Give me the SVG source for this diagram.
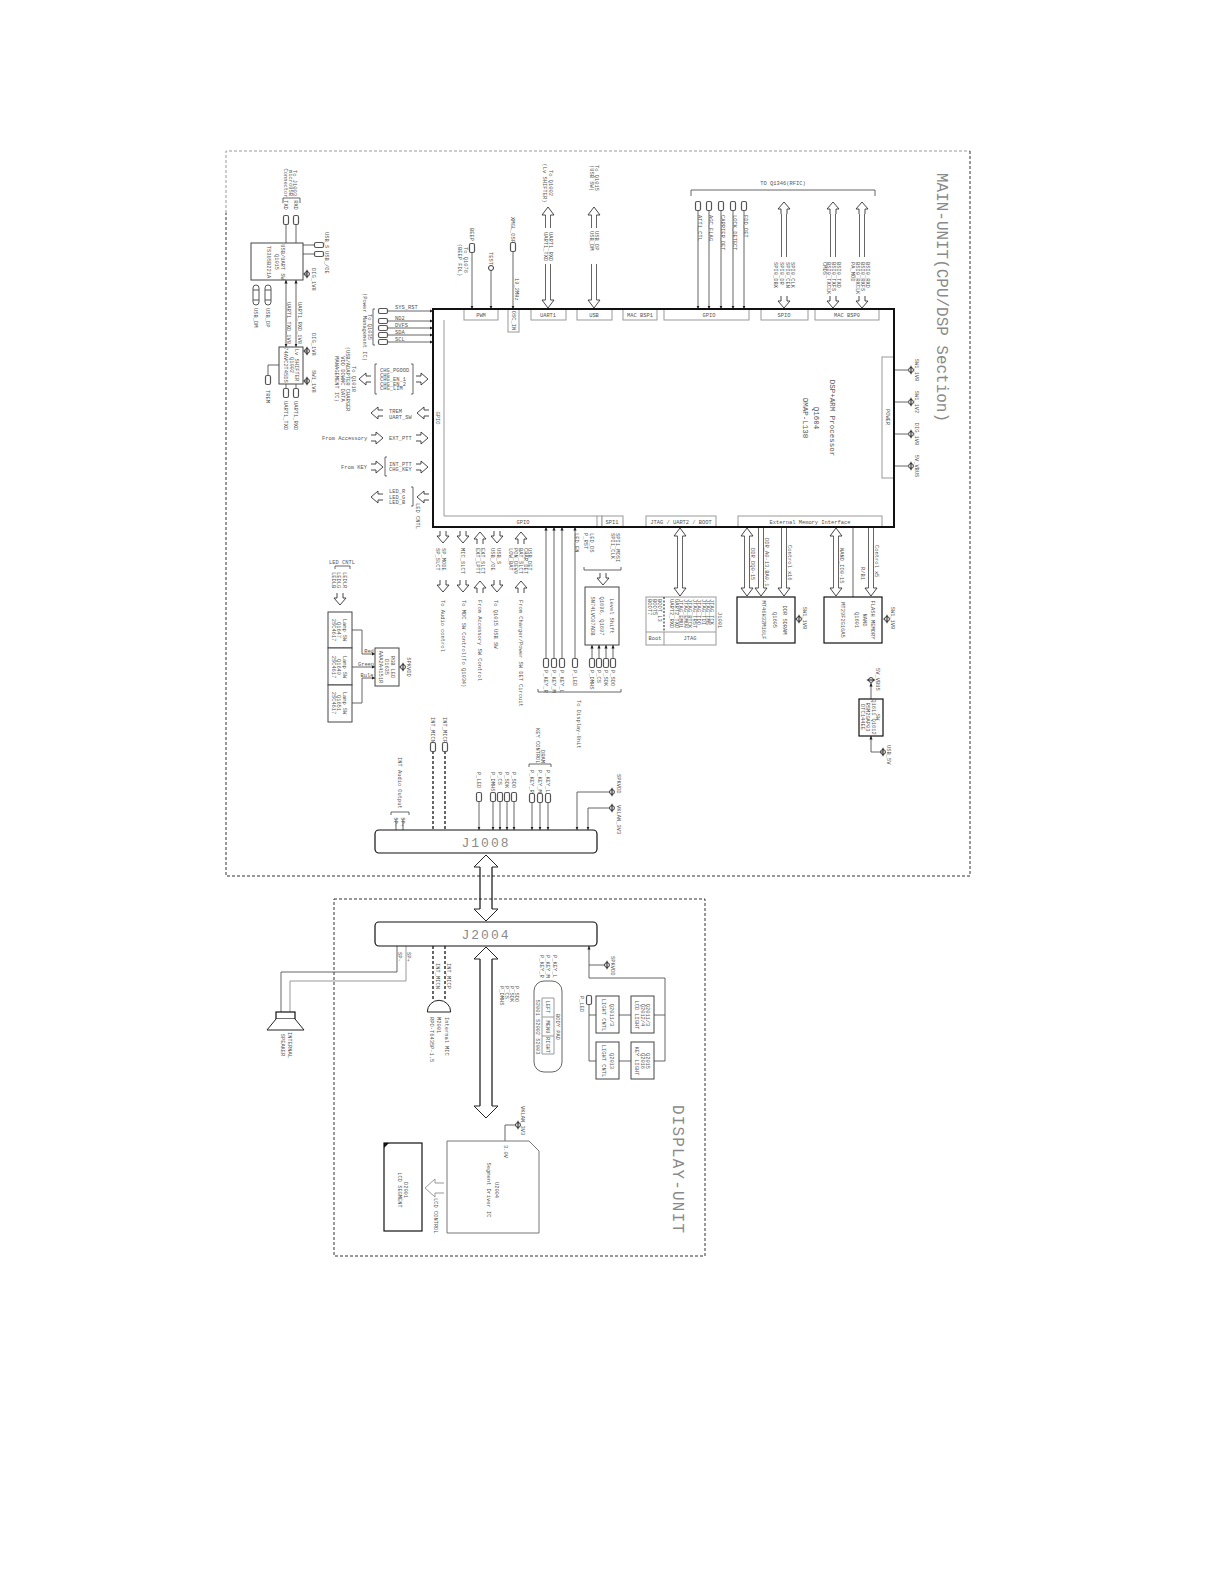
<svg xmlns="http://www.w3.org/2000/svg" width="1224" height="1584" viewBox="0 0 1224 1584">
<style>
text{font-family:"Liberation Mono","DejaVu Sans Mono",monospace;font-size:5.4px;fill:#555}
.m{text-anchor:middle}
.b{font-size:7.5px}
.h{font-size:16px;fill:#8a8a8a}
.j{font-size:13px;fill:#8a8a8a;letter-spacing:2px;text-anchor:middle}
.n{fill:#fff;stroke:#444;stroke-width:1}
.k{fill:#fff;stroke:#111;stroke-width:1.2}
.g{fill:#fff;stroke:#999;stroke-width:1}
.w{fill:none;stroke:#555;stroke-width:.9}
.f{fill:none;stroke:#333;stroke-width:1;stroke-dasharray:3 2}
.e{fill:none;stroke:#999;stroke-width:1;stroke-dasharray:3 2}
.d{fill:none;stroke:#333;stroke-width:1.5;stroke-dasharray:3 2}
.q{fill:none;stroke:#999;stroke-width:1}
</style>
<defs>
<marker id="a" markerUnits="userSpaceOnUse" markerWidth="4" markerHeight="4" refX="3.5" refY="2" orient="auto"><path d="M0 .4L3.6 2 0 3.600z" fill="#222"/></marker>
<path id="ha" d="M-3 12V7H-6L0 0 6 7H3V12" fill="#fff" stroke="#333" stroke-width=".9"/>
<path id="hd" d="M-2.5 8H-6L0 0 6 8H2.5" fill="#fff" stroke="#333" stroke-width=".9"/>
<path id="bh" d="M-6 12H-12L0 0 12 12H6" fill="#fff" stroke="#222" stroke-width="1"/>
<rect id="p" x="-2.5" y="-4.5" width="5" height="9" rx="1.5" fill="#fff" stroke="#555" stroke-width="1.2"/>
<g id="c"><rect x="-3" y="-10" width="6" height="20" rx="3" fill="#fff" stroke="#555"/><path d="M-3-5H3M-3 5H3" stroke="#555"/></g>
<g id="pw"><circle r="2.400" fill="none" stroke="#333"/><path d="M0-4.200V4.200" stroke="#111"/></g>
</defs>
<rect width="1224" height="1584" fill="#fff"/>

<g id="frames">
<path class="e" d="M226 213V151H970"/><path class="f" d="M970 151V876H226V213"/>
<path class="f" d="M334 899H705V1256H334z"/>
<text class="h" transform="translate(937 173)rotate(90)" textLength="249">MAIN-UNIT(CPU/DSP Section)</text>
<text class="h" transform="translate(673 1105)rotate(90)" textLength="128">DISPLAY-UNIT</text>
</g>

<g id="connectors">
<path class="w" d="M286 243V224M296 243V224M303 245H315M303 254H315M303 274H307M303 351H307M303 381H307M279 365H268V376M286 384V389M296 384V389"/>
<path class="w" marker-end="url(#a)" d="M286 300V347"/><path class="w" marker-end="url(#a)" d="M296 300V347"/>
<path class="w" marker-end="url(#a)" d="M286 300V280"/><path class="w" marker-end="url(#a)" d="M296 300V280"/>
<path class="w" marker-end="url(#a)" d="M387 311H433"/><path class="w" marker-end="url(#a)" d="M387 321H433"/><path class="w" marker-end="url(#a)" d="M387 328H433"/><path class="w" marker-end="url(#a)" d="M387 335H433"/><path class="w" marker-end="url(#a)" d="M387 342H433"/>
<path class="w" marker-end="url(#a)" d="M472 252V309"/><path class="w" marker-end="url(#a)" d="M491 271V309"/><path class="w" marker-end="url(#a)" d="M513 251V309"/>
<path class="w" marker-end="url(#a)" d="M698 211V309"/><path class="w" marker-end="url(#a)" d="M709 211V309"/><path class="w" marker-end="url(#a)" d="M721 211V309"/><path class="w" marker-end="url(#a)" d="M733 211V309"/><path class="w" marker-end="url(#a)" d="M744 211V309"/>
<path class="w" d="M545.500 215V228M550.500 215V228M545.500 264V300M550.500 264V300M591.500 215V228M596.500 215V228M591.500 264V300M596.500 264V300M781.500 210V257M786.500 210V257M830.500 210V257M835.500 210V257M859.500 210V257M864.500 210V257"/>
<path class="w" d="M894 370H908M894 402H908M894 434H908M894 466H908"/>
<path class="w" d="M677.500 535V590M682.500 535V590M744.500 535V590M749.500 535V590M758.500 527V590M763.500 527V590M781.500 527V590M786.500 527V590M833.500 535V590M838.500 535V590M853 527V597M868.500 527V590M873.500 527V590"/>
<path class="w" marker-end="url(#a)" d="M546 659V527"/><path class="w" marker-end="url(#a)" d="M554 659V527"/><path class="w" marker-end="url(#a)" d="M562 659V527"/><path class="w" marker-end="url(#a)" d="M575 659V527"/>
<path class="w" marker-end="url(#a)" d="M592 659V645"/><path class="w" marker-end="url(#a)" d="M599 659V645"/><path class="w" marker-end="url(#a)" d="M606 659V645"/><path class="w" marker-end="url(#a)" d="M613 659V645"/>
<path class="w" d="M795 619H797M883 619H885"/>
<path class="w" marker-end="url(#a)" d="M871 699V683"/>
<path class="w" marker-end="url(#a)" d="M883 752H871V736"/>
<path class="w" d="M352 630H362V654H375" marker-end="url(#a)"/>
<path class="w" d="M352 667H375" marker-end="url(#a)"/>
<path class="w" d="M352 703H362V678H375" marker-end="url(#a)"/>
<path class="w" d="M399 667H401"/>
<path class="w" marker-end="url(#a)" d="M479 801V830"/><path class="w" marker-end="url(#a)" d="M493 801V830"/><path class="w" marker-end="url(#a)" d="M500 801V830"/><path class="w" marker-end="url(#a)" d="M507 801V830"/><path class="w" marker-end="url(#a)" d="M514 801V830"/><path class="w" marker-end="url(#a)" d="M532 801V830"/><path class="w" marker-end="url(#a)" d="M540 801V830"/><path class="w" marker-end="url(#a)" d="M548 801V830"/>
<path class="w" marker-end="url(#a)" d="M610 792H577V830"/><path class="w" marker-end="url(#a)" d="M610 808H588V830"/>
<path class="d" d="M433 751V830M445 751V830"/>
<path class="w" d="M396 819V830M403 819V830"/>
<path class="k" style="fill:none" d="M480 867V909M492 867V909M480 959V1106M492 959V1106"/>
<path class="w" d="M397 946V972H281V1012"/><path class="q" d="M406 946V981H290V1012"/>
<path class="d" d="M433 946V1001M445 946V1001"/>
<path class="w" marker-end="url(#a)" d="M589 978V946"/>
<path class="w" d="M589 965H605M589 978H665V1061H654M654 1015H665M619 1015H631M619 1061H631M589 1005V1061H596M589 1015H596"/>
<path class="w" d="M505 1141V1125H516"/>
<g id="hollow-arrows">
<use href="#ha" transform="translate(359 379)rotate(-90)"/><use href="#ha" transform="translate(428 379)rotate(90)"/>
<use href="#ha" transform="translate(371 413)rotate(-90)"/><use href="#ha" transform="translate(417 413)rotate(-90)"/>
<use href="#ha" transform="translate(383 438)rotate(90)"/><use href="#ha" transform="translate(428 438)rotate(90)"/>
<use href="#ha" transform="translate(383 467)rotate(90)"/><use href="#ha" transform="translate(428 467)rotate(90)"/>
<use href="#ha" transform="translate(371 497)rotate(-90)"/><use href="#ha" transform="translate(417 497)rotate(-90)"/>
<use href="#ha" transform="translate(443 543)rotate(180)"/><use href="#ha" transform="translate(463 543)rotate(180)"/><use href="#ha" transform="translate(480 532)"/><use href="#ha" transform="translate(497 543)rotate(180)"/><use href="#ha" transform="translate(521 532)"/>
<use href="#ha" transform="translate(443 592)rotate(180)"/><use href="#ha" transform="translate(463 592)rotate(180)"/><use href="#ha" transform="translate(480 581)"/><use href="#ha" transform="translate(497 592)rotate(180)"/><use href="#ha" transform="translate(521 581)"/>
<use href="#ha" transform="translate(603 585)rotate(180)"/><use href="#ha" transform="translate(340 605)rotate(180)"/>
<use href="#ha" transform="translate(784 202)"/><use href="#ha" transform="translate(833 202)"/><use href="#ha" transform="translate(862 202)"/>
<use href="#ha" transform="translate(784 308)rotate(180)"/><use href="#ha" transform="translate(833 308)rotate(180)"/><use href="#ha" transform="translate(862 308)rotate(180)"/>
<use href="#hd" transform="translate(548 207)"/><use href="#hd" transform="translate(548 308)scale(1 -1)"/>
<use href="#hd" transform="translate(594 207)"/><use href="#hd" transform="translate(594 308)scale(1 -1)"/>
<use href="#hd" transform="translate(680 528)"/><use href="#hd" transform="translate(680 596)scale(1 -1)"/>
<use href="#hd" transform="translate(747 528)"/><use href="#hd" transform="translate(747 596)scale(1 -1)"/>
<use href="#hd" transform="translate(761 596)scale(1 -1)"/><use href="#hd" transform="translate(784 596)scale(1 -1)"/>
<use href="#hd" transform="translate(836 528)"/><use href="#hd" transform="translate(836 596)scale(1 -1)"/>
<use href="#hd" transform="translate(871 596)scale(1 -1)"/>
<use href="#bh" transform="translate(486 855)"/><use href="#bh" transform="translate(486 921)scale(1 -1)"/>
<use href="#bh" transform="translate(486 947)"/><use href="#bh" transform="translate(486 1118)scale(1 -1)"/>
<path d="M444 1183H435V1179L425 1188 435 1197V1193H444" fill="#fff" stroke="#999"/>
</g>
<path class="w" d="M283 203V198H300V203M375 309H373V345H375M691 196V190H875V196M377 364H375V394H377M411 364H413V394H411M387 457H385V476H387M411 487H413V506H411M584 567V570H621V567M538 689V692H621V689M335 569V566H350V569M391 815V812H409V815M529 767V764H551V767"/>
</g>

<g id="cpu">
<rect x="433" y="309" width="461" height="218" fill="#fff" stroke="#111" stroke-width="2"/>
<path class="q" d="M444 320V516H597"/>
<text class="m" transform="translate(436 418)rotate(90)">GPIO</text>
<text class="b m" transform="translate(830 418)rotate(90)">DSP+ARM Processor</text>
<text class="b m" transform="translate(814 418)rotate(90)">Q1604</text>
<text class="b m" transform="translate(803 418)rotate(90)">OMAP-L138</text>
</g>
<g id="cpu-ports">
<rect x="464" y="309" width="34" height="11" class="g"/><text class="m" x="481" y="316.500">PWM</text>
<rect x="508" y="309" width="11" height="23" class="g"/><text class="m" transform="translate(511.500 320.500)rotate(90)">OSC_IN</text>
<rect x="531" y="309" width="35" height="11" class="g"/><text class="m" x="548" y="316.500">UART1</text>
<rect x="577" y="309" width="35" height="11" class="g"/><text class="m" x="594" y="316.500">USB</text>
<rect x="623" y="309" width="34" height="11" class="g"/><text class="m" x="640" y="316.500">MAC BSP1</text>
<rect x="664" y="309" width="85" height="11" class="g"/><text class="m" x="709" y="316.500">GPIO</text>
<rect x="761" y="309" width="47" height="11" class="g"/><text class="m" x="784" y="316.500">SPIO</text>
<rect x="815" y="309" width="64" height="11" class="g"/><text class="m" x="847" y="316.500">MAC BSP0</text>
<rect x="882" y="357" width="12" height="121" class="g"/><text class="m" transform="translate(886 417)rotate(90)">POWER</text>
<rect x="597" y="516" width="5" height="11" class="g"/>
<rect x="602" y="516" width="21" height="11" class="g"/><text class="m" x="612" y="523.500">SPI1</text>
<rect x="646" y="516" width="70" height="11" class="g"/><text class="m" x="681" y="523.500">JTAG / UART2 / BOOT</text>
<rect x="738" y="516" width="144" height="11" class="g"/><text class="m" x="810" y="523.500">External Memory Interface</text>
<text class="m" x="523" y="523.500">GPIO</text>
<path d="M433 309H894V527H433z" fill="none" stroke="#111" stroke-width="2"/>
</g>

<g id="q1015">
<rect x="251" y="243" width="52" height="37" class="n"/>
<text class="m" transform="translate(281 262)rotate(90)">USB/UART SW</text>
<text class="m" transform="translate(275 262)rotate(90)">Q1015</text>
<text class="m" transform="translate(267 262)rotate(90)">TS3USB221A</text>
<use href="#p" x="286" y="220"/><use href="#p" x="296" y="220"/>
<use href="#p" transform="translate(319 245)rotate(90)"/><use href="#p" transform="translate(319 254)rotate(90)"/>
<use href="#c" x="256" y="295"/><use href="#c" x="268" y="295"/>
<use href="#pw" x="307" y="274"/><use href="#pw" x="307" y="351"/><use href="#pw" x="307" y="381"/>
<text transform="translate(325 232)rotate(90)">USB_S</text><text transform="translate(325 251)rotate(90)">USB_/OE</text>
<text transform="translate(312 268)rotate(90)">DIG_1V8</text>
<text transform="translate(254 308)rotate(90)">USB_DM</text><text transform="translate(266 308)rotate(90)">USB_DP</text>
<text class="m" transform="translate(284 205)rotate(90)">TXD</text><text class="m" transform="translate(294 205)rotate(90)">RXD</text>
<text class="m" transform="translate(293 183)rotate(90)">To J1003</text><text class="m" transform="translate(289 183)rotate(90)">microUSB</text><text class="m" transform="translate(284 183)rotate(90)">Connector</text>
<text transform="translate(287 302)rotate(90)">UART1_TXD_1V8</text><text transform="translate(298 302)rotate(90)">UART1_RXD_1V8</text>
</g>

<g id="q1002">
<rect x="279" y="347" width="24" height="37" class="n"/>
<text class="m" transform="translate(295 365)rotate(90)">Lv SHIFTER</text>
<text class="m" transform="translate(290 365)rotate(90)">Q1002</text>
<text class="m" transform="translate(284 365)rotate(90)">74AVC2T45DS</text>
<use href="#p" x="268" y="380"/><use href="#p" x="286" y="393"/><use href="#p" x="296" y="393"/>
<text transform="translate(266 390)rotate(90)">TREM</text>
<text transform="translate(284 401)rotate(90)">UART1_TXD</text><text transform="translate(294 401)rotate(90)">UART1_RXD</text>
<text transform="translate(312 333)rotate(90)">DIG_1V8</text><text transform="translate(312 370)rotate(90)">SW1_1V8</text>
</g>

<g id="power-mgmt">
<use href="#p" transform="translate(383 311)rotate(90)"/><use href="#p" transform="translate(383 321)rotate(90)"/><use href="#p" transform="translate(383 328)rotate(90)"/><use href="#p" transform="translate(383 335)rotate(90)"/><use href="#p" transform="translate(383 342)rotate(90)"/>
<text x="395" y="309">SYS_RST</text><text x="395" y="320">ND2</text><text x="395" y="327">DVFS</text><text x="395" y="334">SDA</text><text x="395" y="341">SCL</text>
<text class="m" transform="translate(368 327)rotate(90)">To Q1035</text><text class="m" transform="translate(363 327)rotate(90)">(Power Management IC)</text>
</g>

<g id="gpio-left">
<text x="380" y="372">CHG_PGOOD</text><text x="380" y="376.500">CHG</text><text x="380" y="381">CHG_EN_1</text><text x="380" y="385.500">CHG_EN_2</text><text x="380" y="390">CHG_LIM</text>
<text class="m" transform="translate(352 379)rotate(90)">To Q1018</text><text class="m" transform="translate(346 379)rotate(90)">(USB/ADAPTER CHARGER</text><text class="m" transform="translate(341 379)rotate(90)">VDD DOWNC DATA</text><text class="m" transform="translate(335 379)rotate(90)">MANAGEMENT IC)</text>
<text x="389" y="413">TREM</text><text x="389" y="419">UART_SW</text>
<text x="322" y="440">From Accessory</text><text x="389" y="440">EXT_PTT</text>
<text x="341" y="469">From KEY</text><text x="389" y="466">INT_PTT</text><text x="389" y="471">CHG_KEY</text>
<text x="389" y="493">LED_R</text><text x="389" y="499">LED_G</text><text x="389" y="504">LED_B</text>
<text transform="translate(416 503)rotate(90)">LED CNTL</text>
</g>

<g id="top-signals">
<use href="#p" x="472" y="248"/><text transform="translate(470 228)rotate(90)">BEEP</text>
<text class="m" transform="translate(464 260)rotate(90)">To Q1076</text><text class="m" transform="translate(458 260)rotate(90)">(BEEP FDL)</text>
<circle cx="491" cy="268" r="2.500" fill="#fff" stroke="#333"/><text transform="translate(489 252)rotate(90)">TEST</text>
<use href="#p" x="513" y="247"/><text transform="translate(511 217)rotate(90)">XMGL_OSP</text><text transform="translate(515 278)rotate(90)">19_2MHz</text>
<text class="m" transform="translate(549 183)rotate(90)">To Q1002</text><text class="m" transform="translate(543 183)rotate(90)">(Lv SHIFTER)</text>
<text transform="translate(549 232)rotate(90)">UART1_RXD</text><text transform="translate(544 232)rotate(90)">UART1_TXD</text>
<text class="m" transform="translate(595 178)rotate(90)">To Q1015</text><text class="m" transform="translate(590 178)rotate(90)">(USB SW)</text>
<text transform="translate(595 231)rotate(90)">USB_DP</text><text transform="translate(590 231)rotate(90)">USB_DM</text>
<use href="#p" x="698" y="206"/><use href="#p" x="709" y="206"/><use href="#p" x="721" y="206"/><use href="#p" x="733" y="206"/><use href="#p" x="744" y="206"/>
<text transform="translate(698 215)rotate(90)">ATT1_CTL</text><text transform="translate(709 215)rotate(90)">AGC_FLAG</text><text transform="translate(721 215)rotate(90)">CARRIER_DET</text><text transform="translate(733 215)rotate(90)">LOCK_DETECT</text><text transform="translate(744 215)rotate(90)">FDD_DET</text>
<text class="m" x="783" y="185">TO Q1346(RFIC)</text>
<text transform="translate(791 262)rotate(90)">SPI0_CLK</text><text transform="translate(786 262)rotate(90)">SPI0_CEN</text><text transform="translate(780 262)rotate(90)">SPI0_DR</text><text transform="translate(774 262)rotate(90)">SPI0_DBX</text>
<text transform="translate(837 262)rotate(90)">BSI0_TXD</text><text transform="translate(832 262)rotate(90)">BSI0_TXFS</text><text transform="translate(827 262)rotate(90)">BSI0_TXCLK</text><text transform="translate(823 262)rotate(90)">CMDS</text>
<text transform="translate(866 262)rotate(90)">BSI0_RXD</text><text transform="translate(861 262)rotate(90)">BSI0_RXFS</text><text transform="translate(856 262)rotate(90)">BSI0_RXCLK</text><text transform="translate(851 262)rotate(90)">PA_MOD</text>
</g>

<g id="power-rails">
<use href="#pw" x="911" y="370"/><use href="#pw" x="911" y="402"/><use href="#pw" x="911" y="434"/><use href="#pw" x="911" y="466"/>
<text class="m" transform="translate(915 370)rotate(90)">SW1_1V8</text><text class="m" transform="translate(915 402)rotate(90)">SW1_1V2</text><text class="m" transform="translate(915 434)rotate(90)">DIG_1V8</text><text class="m" transform="translate(915 466)rotate(90)">5V_VBUS</text>
</g>

<g id="gpio-bottom">
<text transform="translate(442 548)rotate(90)">SP_MODE</text><text transform="translate(436 548)rotate(90)">SP_SLCT</text>
<text transform="translate(461 548)rotate(90)">MIC_SLCT</text>
<text transform="translate(481 548)rotate(90)">EXT_SLCT</text><text transform="translate(476 548)rotate(90)">EXT_LPTT</text>
<text transform="translate(497 548)rotate(90)">USB_S</text><text transform="translate(491 548)rotate(90)">USB_/OE</text>
<text transform="translate(528 548)rotate(90)">USB_DET</text><text transform="translate(524 548)rotate(90)">CHAR_DET</text><text transform="translate(519 548)rotate(90)">BAT_SLCT</text><text transform="translate(514 548)rotate(90)">PON_DEV0</text><text transform="translate(509 548)rotate(90)">LOW_BAT</text>
<text transform="translate(441 600)rotate(90)">To Audio control</text>
<text transform="translate(462 600)rotate(90)">To MDC SW Control(To Q1034)</text>
<text transform="translate(478 600)rotate(90)">From Accessory SW Control</text>
<text transform="translate(494 600)rotate(90)">To Q1015 USB SW</text>
<text transform="translate(519 600)rotate(90)">From Charger/Power SW DET Circuit</text>
<text transform="translate(575 533)rotate(90)">LED_EN</text><text transform="translate(590 533)rotate(90)">LED_DS</text><text transform="translate(584 533)rotate(90)">P_RST</text>
<text transform="translate(616 533)rotate(90)">SPI1_MOSI</text><text transform="translate(611 533)rotate(90)">SPI1_CLK</text>
</g>

<g id="level-shift">
<rect x="585" y="587" width="34" height="58" class="n"/>
<text class="m" transform="translate(610 616)rotate(90)">Level Shift</text><text class="m" transform="translate(600 616)rotate(90)">Q1696, Q1697</text><text class="m" transform="translate(591 616)rotate(90)">SN74LVC07ADB</text>
<use href="#p" x="546" y="663"/><use href="#p" x="554" y="663"/><use href="#p" x="562" y="663"/><use href="#p" x="575" y="663"/><use href="#p" x="592" y="663"/><use href="#p" x="599" y="663"/><use href="#p" x="606" y="663"/><use href="#p" x="613" y="663"/>
<text transform="translate(544 670)rotate(90)">P_KEY_R</text><text transform="translate(552 670)rotate(90)">P_KEY_M</text><text transform="translate(560 670)rotate(90)">P_KEY_L</text><text transform="translate(573 670)rotate(90)">P_LED</text>
<text transform="translate(590 670)rotate(90)">P_DMHS</text><text transform="translate(597 670)rotate(90)">P_CS</text><text transform="translate(604 670)rotate(90)">P_SDK</text><text transform="translate(611 670)rotate(90)">P_SDO</text>
<text transform="translate(577 700)rotate(90)">To Display-Unit</text>
</g>

<g id="lamp">
<rect x="328" y="612" width="24" height="36" class="n"/><rect x="328" y="648" width="24" height="37" class="n"/><rect x="328" y="685" width="24" height="37" class="n"/>
<text class="m" transform="translate(343 630)rotate(90)">Lamp SW</text><text class="m" transform="translate(337 630)rotate(90)">Q1647</text><text class="m" transform="translate(332 630)rotate(90)">2SC4617</text>
<text class="m" transform="translate(343 667)rotate(90)">Lamp SW</text><text class="m" transform="translate(337 667)rotate(90)">Q1649</text><text class="m" transform="translate(332 667)rotate(90)">2SC4617</text>
<text class="m" transform="translate(343 703)rotate(90)">Lamp SW</text><text class="m" transform="translate(337 703)rotate(90)">Q1651</text><text class="m" transform="translate(332 703)rotate(90)">2SC4617</text>
<text class="m" x="342" y="564">LED CNTL</text>
<text transform="translate(343 572)rotate(90)">LEDLR</text><text transform="translate(337 572)rotate(90)">LEDLG</text><text transform="translate(332 572)rotate(90)">LEDLB</text>
<text class="m" x="369" y="653">Red</text><text class="m" x="366" y="666">Green</text><text class="m" x="367" y="677">Bule</text>
</g>
<g id="rgb-led">
<rect x="375" y="648" width="24" height="38" class="n"/>
<text class="m" transform="translate(391 667)rotate(90)">RGB LED</text><text class="m" transform="translate(385 667)rotate(90)">D1635</text><text class="m" transform="translate(379 667)rotate(90)">AAA2A4151R</text>
<use href="#pw" x="403" y="667"/><text class="m" transform="translate(407 667)rotate(90)">SPKVDD</text>
</g>

<g id="jtag">
<rect x="646" y="597" width="70" height="48" class="g"/>
<path class="q" d="M646 632H716M664 632V645"/><path d="M664 597V632" stroke="#111" stroke-dasharray="2 1.500"/>
<text class="m" x="655" y="640">Boot</text><text class="m" x="690" y="640">JTAG</text>
<text transform="translate(710 599)rotate(90)">JTAG_TCK</text><text transform="translate(706 599)rotate(90)">JTAG_TMS</text><text transform="translate(701.500 599)rotate(90)">JTAG_TDI</text><text transform="translate(697 599)rotate(90)">JTAG_TDO</text><text transform="translate(692.500 599)rotate(90)">JTAG_TRST</text><text transform="translate(688 599)rotate(90)">JTAG_RTCK</text><text transform="translate(683.500 599)rotate(90)">JTAG_EMU0</text><text transform="translate(679 599)rotate(90)">JTAG_EMU1</text><text transform="translate(674.500 599)rotate(90)">UART2_TXD</text><text transform="translate(670 599)rotate(90)">UART2_RXD</text>
<text transform="translate(658 599)rotate(90)">BOOT_L3</text><text transform="translate(653 599)rotate(90)">BOOT5</text><text transform="translate(648 599)rotate(90)">BOOT7</text>
<text transform="translate(718 612)rotate(90)">J1001</text>
</g>

<g id="ddr">
<rect x="737" y="597" width="58" height="46" class="k"/>
<text class="m" transform="translate(783 620)rotate(90)">DDR SDRAM</text><text class="m" transform="translate(773 620)rotate(90)">Q1605</text><text class="m" transform="translate(762 620)rotate(90)">MT46H32M16LF</text>
<use href="#pw" x="799" y="619"/><text class="m" transform="translate(803 618)rotate(90)">SW1_1V8</text>
<text transform="translate(751 548)rotate(90)">DDR_DQ0-15</text><text transform="translate(765 538)rotate(90)">DDR_A0-13,BA0,1</text><text transform="translate(788 545)rotate(90)">Control x16</text>
</g>
<g id="flash">
<rect x="824" y="597" width="58" height="46" class="k"/>
<text class="m" transform="translate(871 620)rotate(90)">FLASH MEMORY</text><text class="m" transform="translate(863 620)rotate(90)">NAND</text><text class="m" transform="translate(855 620)rotate(90)">Q1601</text><text class="m" transform="translate(841 620)rotate(90)">MT29F2G16A5</text>
<use href="#pw" x="887" y="619"/><text class="m" transform="translate(891 618)rotate(90)">SW1_1V8</text>
<text transform="translate(840 548)rotate(90)">NAND_IO0-15</text><text transform="translate(861 567)rotate(90)">R/B1</text><text transform="translate(875 545)rotate(90)">Control x5</text>
</g>
<g id="usb-sw">
<rect x="859" y="699" width="24" height="37" class="k"/>
<text class="m" transform="translate(876 717)rotate(90)">SW</text><text class="m" transform="translate(872 717)rotate(90)">Q1611 Q1612</text><text class="m" transform="translate(866 717)rotate(90)">RSM2GAP03</text><text class="m" transform="translate(861 717)rotate(90)">DTC144EE</text>
<use href="#pw" transform="translate(871 680)rotate(90)"/><text transform="translate(876 668)rotate(90)">5V_VBUS</text>
<use href="#pw" x="883" y="752"/><text transform="translate(887 745)rotate(90)">USB_5V</text>
</g>

<g id="j1008">
<rect x="375" y="830" width="222" height="23" rx="4" class="k"/>
<text class="j" x="486" y="847">J1008</text>
<use href="#p" x="433" y="747"/><use href="#p" x="445" y="747"/>
<text transform="translate(431 717)rotate(90)">INT_MICN</text><text transform="translate(443 717)rotate(90)">INT_MICP</text>
<text transform="translate(398 757)rotate(90)">INT Audio Output</text>
<text class="m" transform="translate(394 822)rotate(90)">SP-</text><text class="m" transform="translate(401 822)rotate(90)">SP+</text>
<use href="#p" x="479" y="797"/><use href="#p" x="493" y="797"/><use href="#p" x="500" y="797"/><use href="#p" x="507" y="797"/><use href="#p" x="514" y="797"/><use href="#p" x="532" y="798"/><use href="#p" x="540" y="798"/><use href="#p" x="548" y="798"/>
<text transform="translate(477 772)rotate(90)">P_LED</text><text transform="translate(491 772)rotate(90)">P_DMHS</text><text transform="translate(498 772)rotate(90)">P_CS</text><text transform="translate(505 772)rotate(90)">P_SDK</text><text transform="translate(512 772)rotate(90)">P_SDO</text>
<text transform="translate(530 770)rotate(90)">P_KEY_R</text><text transform="translate(538 770)rotate(90)">P_KEY_M</text><text transform="translate(546 770)rotate(90)">P_KEY_L</text>
<text transform="translate(536 728)rotate(90)">KEY CONTROL</text><text transform="translate(541 750)rotate(90)">DRAM</text>
<use href="#pw" x="612" y="792"/><use href="#pw" x="612" y="808"/>
<text transform="translate(617 774)rotate(90)">SPKVDD</text><text transform="translate(617 805)rotate(90)">VKLAN_3V3</text>
</g>

<g id="j2004">
<rect x="375" y="922" width="222" height="24" rx="4" class="k"/>
<text class="j" x="486" y="939">J2004</text>
<text transform="translate(398 952)rotate(90)">SP-</text><text transform="translate(407 952)rotate(90)">SP+</text>
<text transform="translate(436 963)rotate(90)">INT_MICN</text><text transform="translate(447 963)rotate(90)">INT_MICP</text>
<text transform="translate(500 986)rotate(90)">P_DMHS</text><text transform="translate(505 986)rotate(90)">P_CS</text><text transform="translate(510 986)rotate(90)">P_SDK</text><text transform="translate(515 986)rotate(90)">P_SDO</text>
<text transform="translate(540 955)rotate(90)">P_KEY_R</text><text transform="translate(546 955)rotate(90)">P_KEY_M</text><text transform="translate(553 955)rotate(90)">P_KEY_L</text>
<use href="#pw" x="607" y="965"/><text transform="translate(611 956)rotate(90)">SPKVDD</text>
</g>

<g id="speaker">
<rect x="276" y="1012" width="19" height="7" class="k"/>
<path d="M276 1019L267 1030H304L295 1019" fill="#fff" stroke="#222"/>
<text class="m" transform="translate(288 1045)rotate(90)">INTERNAL</text><text class="m" transform="translate(281 1045)rotate(90)">SPEAKER</text>
</g>
<g id="mic">
<path d="M427.300 1012A11.700 11.700 0 0 1 450.700 1012z" fill="#fff" stroke="#222"/>
<text transform="translate(445 1017)rotate(90)">Internal MIC</text><text transform="translate(437 1017)rotate(90)">M2001</text><text transform="translate(430 1017)rotate(90)">RPO-T6435P-1.5</text>
</g>
<g id="body-pad">
<rect x="534" y="981" width="28" height="91" rx="10" fill="#fff" stroke="#666"/>
<path class="q" d="M542 998H554V1054H542zM542 1017H554M542 1036H554"/>
<text class="m" transform="translate(546 1007)rotate(90)">LEFT</text><text class="m" transform="translate(546 1027)rotate(90)">MENU</text><text class="m" transform="translate(546 1045)rotate(90)">RIGHT</text>
<text class="m" transform="translate(556 1027)rotate(90)">BODY PAD</text><text class="m" transform="translate(536 1027)rotate(90)">S2001 S2002 S2003</text>
</g>
<g id="lights">
<rect x="596" y="996" width="23" height="37" class="n"/><rect x="596" y="1042" width="23" height="37" class="n"/><rect x="631" y="996" width="23" height="37" class="n"/><rect x="631" y="1042" width="23" height="37" class="n"/>
<text class="m" transform="translate(610 1015)rotate(90)">Q2011/3</text><text class="m" transform="translate(602 1015)rotate(90)">LIGHT CNTL</text>
<text class="m" transform="translate(610 1061)rotate(90)">Q2013</text><text class="m" transform="translate(602 1061)rotate(90)">LIGHT CNTL</text>
<text class="m" transform="translate(646 1015)rotate(90)">Q2011/3</text><text class="m" transform="translate(641 1015)rotate(90)">Q2012/4</text><text class="m" transform="translate(635 1015)rotate(90)">LCD LIGHT</text>
<text class="m" transform="translate(646 1061)rotate(90)">Q2015</text><text class="m" transform="translate(641 1061)rotate(90)">Q2016</text><text class="m" transform="translate(635 1061)rotate(90)">KEY LIGHT</text>
<use href="#p" x="589" y="1000"/><text transform="translate(580 996)rotate(90)">P_LED</text>
</g>
<g id="lcd">
<rect x="384" y="1143" width="38" height="88" class="k"/><path d="M384 1143H389L384 1148z" fill="#111"/>
<text class="m" transform="translate(404 1190)rotate(90)">D2001</text><text class="m" transform="translate(398 1190)rotate(90)">LCD SEGMENT</text>
<text transform="translate(434 1198)rotate(90)">LCD CONTROL</text>
</g>
<g id="driver">
<path d="M447 1141H529L539 1151V1233H447z" fill="#fff" stroke="#777"/>
<text class="m" transform="translate(495 1190)rotate(90)">U2004</text><text class="m" transform="translate(487 1190)rotate(90)">Segment Driver IC</text>
<text transform="translate(504 1145)rotate(90)">3.0V</text>
<use href="#pw" x="518" y="1125"/><text transform="translate(521 1106)rotate(90)">VKLAN_3V3</text>
</g>
</svg>
